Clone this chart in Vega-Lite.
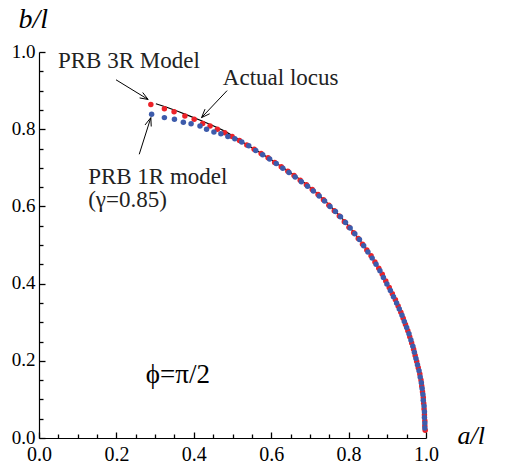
{
  "$schema": "https://vega.github.io/schema/vega-lite/v6.json",
  "width": 387,
  "height": 386,
  "autosize": {"type": "none"},
  "padding": {"left": 39, "top": 52, "right": 79, "bottom": 26},
  "background": "white",
  "config": {
    "view": {"stroke": null},
    "font": "Liberation Serif",
    "axis": {"labelFont": "Liberation Serif", "titleFont": "Liberation Serif", "grid": false, "tickOpacity": 1, "tickColor": "black"},
    "text": {"font": "Liberation Serif"}
  },
  "resolve": {"axis": {"x": "independent", "y": "independent"}},
  "datasets": {
    "locus": [
      {"a": 0.302, "b": 0.866}, {"a": 0.33, "b": 0.857}, {"a": 0.36, "b": 0.846}, {"a": 0.39, "b": 0.834},
      {"a": 0.42, "b": 0.822}, {"a": 0.45, "b": 0.809}, {"a": 0.48, "b": 0.795}, {"a": 0.51, "b": 0.777},
      {"a": 0.54, "b": 0.758}, {"a": 0.57, "b": 0.740}, {"a": 0.60, "b": 0.721}, {"a": 0.63, "b": 0.701},
      {"a": 0.66, "b": 0.681}, {"a": 0.69, "b": 0.658}, {"a": 0.72, "b": 0.633}, {"a": 0.75, "b": 0.604},
      {"a": 0.78, "b": 0.573}, {"a": 0.81, "b": 0.537}, {"a": 0.84, "b": 0.498}, {"a": 0.86, "b": 0.470},
      {"a": 0.88, "b": 0.438}, {"a": 0.90, "b": 0.401}, {"a": 0.92, "b": 0.360}, {"a": 0.935, "b": 0.326},
      {"a": 0.947, "b": 0.294}, {"a": 0.958, "b": 0.262}, {"a": 0.968, "b": 0.230}, {"a": 0.976, "b": 0.198},
      {"a": 0.984, "b": 0.166}, {"a": 0.989, "b": 0.135}, {"a": 0.993, "b": 0.105}, {"a": 0.995, "b": 0.075},
      {"a": 0.9965, "b": 0.045}, {"a": 0.998, "b": 0.018}
    ],
    "pts": [
      {"m": "PRB 3R", "a": 0.289, "b": 0.864}, {"m": "PRB 3R", "a": 0.324, "b": 0.853}, {"m": "PRB 3R", "a": 0.349, "b": 0.845},
      {"m": "PRB 3R", "a": 0.377, "b": 0.834}, {"m": "PRB 3R", "a": 0.401, "b": 0.826}, {"m": "PRB 3R", "a": 0.423, "b": 0.815},
      {"m": "PRB 3R", "a": 0.442, "b": 0.808}, {"m": "PRB 3R", "a": 0.461, "b": 0.800}, {"m": "PRB 3R", "a": 0.480, "b": 0.791},
      {"m": "PRB 3R", "a": 0.499, "b": 0.781}, {"m": "PRB 3R", "a": 0.518, "b": 0.771}, {"m": "PRB 3R", "a": 0.537, "b": 0.759},
      {"m": "PRB 3R", "a": 0.556, "b": 0.748}, {"m": "PRB 3R", "a": 0.574, "b": 0.737}, {"m": "PRB 3R", "a": 0.592, "b": 0.726},
      {"m": "PRB 3R", "a": 0.609, "b": 0.714}, {"m": "PRB 3R", "a": 0.626, "b": 0.703}, {"m": "PRB 3R", "a": 0.643, "b": 0.691},
      {"m": "PRB 3R", "a": 0.659, "b": 0.680}, {"m": "PRB 3R", "a": 0.675, "b": 0.668}, {"m": "PRB 3R", "a": 0.691, "b": 0.656},
      {"m": "PRB 3R", "a": 0.706, "b": 0.644}, {"m": "PRB 3R", "a": 0.721, "b": 0.631}, {"m": "PRB 3R", "a": 0.735, "b": 0.617},
      {"m": "PRB 3R", "a": 0.749, "b": 0.603}, {"m": "PRB 3R", "a": 0.763, "b": 0.589}, {"m": "PRB 3R", "a": 0.776, "b": 0.575},
      {"m": "PRB 3R", "a": 0.789, "b": 0.560}, {"m": "PRB 3R", "a": 0.801, "b": 0.546}, {"m": "PRB 3R", "a": 0.813, "b": 0.532},
      {"m": "PRB 3R", "a": 0.825, "b": 0.517}, {"m": "PRB 3R", "a": 0.836, "b": 0.502}, {"m": "PRB 3R", "a": 0.847, "b": 0.487},
      {"m": "PRB 3R", "a": 0.858, "b": 0.472}, {"m": "PRB 3R", "a": 0.868, "b": 0.456}, {"m": "PRB 3R", "a": 0.878, "b": 0.440},
      {"m": "PRB 3R", "a": 0.887, "b": 0.424}, {"m": "PRB 3R", "a": 0.896, "b": 0.407}, {"m": "PRB 3R", "a": 0.905, "b": 0.390},
      {"m": "PRB 3R", "a": 0.913, "b": 0.374}, {"m": "PRB 3R", "a": 0.921, "b": 0.358}, {"m": "PRB 3R", "a": 0.928, "b": 0.342},
      {"m": "PRB 3R", "a": 0.935, "b": 0.326}, {"m": "PRB 3R", "a": 0.941, "b": 0.310}, {"m": "PRB 3R", "a": 0.947, "b": 0.294},
      {"m": "PRB 3R", "a": 0.953, "b": 0.278}, {"m": "PRB 3R", "a": 0.958, "b": 0.262}, {"m": "PRB 3R", "a": 0.963, "b": 0.246},
      {"m": "PRB 3R", "a": 0.968, "b": 0.230}, {"m": "PRB 3R", "a": 0.972, "b": 0.214}, {"m": "PRB 3R", "a": 0.976, "b": 0.198},
      {"m": "PRB 3R", "a": 0.980, "b": 0.182}, {"m": "PRB 3R", "a": 0.984, "b": 0.166}, {"m": "PRB 3R", "a": 0.987, "b": 0.150},
      {"m": "PRB 3R", "a": 0.989, "b": 0.135}, {"m": "PRB 3R", "a": 0.991, "b": 0.120}, {"m": "PRB 3R", "a": 0.993, "b": 0.105},
      {"m": "PRB 3R", "a": 0.994, "b": 0.090}, {"m": "PRB 3R", "a": 0.995, "b": 0.075}, {"m": "PRB 3R", "a": 0.996, "b": 0.060},
      {"m": "PRB 3R", "a": 0.997, "b": 0.045}, {"m": "PRB 3R", "a": 0.997, "b": 0.032}, {"m": "PRB 3R", "a": 0.998, "b": 0.020},
      {"m": "PRB 1R", "a": 0.291, "b": 0.839}, {"m": "PRB 1R", "a": 0.324, "b": 0.830}, {"m": "PRB 1R", "a": 0.350, "b": 0.826},
      {"m": "PRB 1R", "a": 0.373, "b": 0.818}, {"m": "PRB 1R", "a": 0.393, "b": 0.814}, {"m": "PRB 1R", "a": 0.416, "b": 0.808},
      {"m": "PRB 1R", "a": 0.433, "b": 0.800}, {"m": "PRB 1R", "a": 0.452, "b": 0.793}, {"m": "PRB 1R", "a": 0.470, "b": 0.788},
      {"m": "PRB 1R", "a": 0.488, "b": 0.781}, {"m": "PRB 1R", "a": 0.506, "b": 0.775}, {"m": "PRB 1R", "a": 0.524, "b": 0.767},
      {"m": "PRB 1R", "a": 0.542, "b": 0.757}, {"m": "PRB 1R", "a": 0.560, "b": 0.745}, {"m": "PRB 1R", "a": 0.578, "b": 0.734},
      {"m": "PRB 1R", "a": 0.596, "b": 0.723}, {"m": "PRB 1R", "a": 0.613, "b": 0.711}, {"m": "PRB 1R", "a": 0.630, "b": 0.699},
      {"m": "PRB 1R", "a": 0.646, "b": 0.688}, {"m": "PRB 1R", "a": 0.662, "b": 0.676}, {"m": "PRB 1R", "a": 0.678, "b": 0.664},
      {"m": "PRB 1R", "a": 0.694, "b": 0.652}, {"m": "PRB 1R", "a": 0.709, "b": 0.640}, {"m": "PRB 1R", "a": 0.724, "b": 0.627},
      {"m": "PRB 1R", "a": 0.738, "b": 0.614}, {"m": "PRB 1R", "a": 0.752, "b": 0.600}, {"m": "PRB 1R", "a": 0.766, "b": 0.587},
      {"m": "PRB 1R", "a": 0.779, "b": 0.573}, {"m": "PRB 1R", "a": 0.792, "b": 0.558}, {"m": "PRB 1R", "a": 0.804, "b": 0.544},
      {"m": "PRB 1R", "a": 0.816, "b": 0.529}, {"m": "PRB 1R", "a": 0.828, "b": 0.514}, {"m": "PRB 1R", "a": 0.839, "b": 0.498},
      {"m": "PRB 1R", "a": 0.850, "b": 0.482}, {"m": "PRB 1R", "a": 0.861, "b": 0.466}, {"m": "PRB 1R", "a": 0.871, "b": 0.450},
      {"m": "PRB 1R", "a": 0.881, "b": 0.433}, {"m": "PRB 1R", "a": 0.890, "b": 0.416}, {"m": "PRB 1R", "a": 0.899, "b": 0.399},
      {"m": "PRB 1R", "a": 0.908, "b": 0.382}, {"m": "PRB 1R", "a": 0.916, "b": 0.366}, {"m": "PRB 1R", "a": 0.924, "b": 0.350},
      {"m": "PRB 1R", "a": 0.931, "b": 0.334}, {"m": "PRB 1R", "a": 0.938, "b": 0.318}, {"m": "PRB 1R", "a": 0.944, "b": 0.302},
      {"m": "PRB 1R", "a": 0.950, "b": 0.286}, {"m": "PRB 1R", "a": 0.956, "b": 0.270}, {"m": "PRB 1R", "a": 0.961, "b": 0.254},
      {"m": "PRB 1R", "a": 0.966, "b": 0.238}, {"m": "PRB 1R", "a": 0.970, "b": 0.222}, {"m": "PRB 1R", "a": 0.974, "b": 0.206},
      {"m": "PRB 1R", "a": 0.978, "b": 0.190}, {"m": "PRB 1R", "a": 0.982, "b": 0.174}, {"m": "PRB 1R", "a": 0.985, "b": 0.158},
      {"m": "PRB 1R", "a": 0.988, "b": 0.143}, {"m": "PRB 1R", "a": 0.990, "b": 0.128}, {"m": "PRB 1R", "a": 0.992, "b": 0.113},
      {"m": "PRB 1R", "a": 0.993, "b": 0.098}, {"m": "PRB 1R", "a": 0.995, "b": 0.083}, {"m": "PRB 1R", "a": 0.996, "b": 0.068},
      {"m": "PRB 1R", "a": 0.996, "b": 0.053}, {"m": "PRB 1R", "a": 0.997, "b": 0.039}, {"m": "PRB 1R", "a": 0.997, "b": 0.026}
    ],
    "arrows": [
      {"a": 0.199, "b": 0.928, "a2": 0.282, "b2": 0.877},
      {"a": 0.282, "b": 0.877, "a2": 0.268, "b2": 0.895},
      {"a": 0.282, "b": 0.877, "a2": 0.260, "b2": 0.881},
      {"a": 0.486, "b": 0.900, "a2": 0.420, "b2": 0.830},
      {"a": 0.420, "b": 0.830, "a2": 0.441, "b2": 0.840},
      {"a": 0.420, "b": 0.830, "a2": 0.429, "b2": 0.852},
      {"a": 0.259, "b": 0.735, "a2": 0.289, "b2": 0.830},
      {"a": 0.289, "b": 0.830, "a2": 0.274, "b2": 0.811},
      {"a": 0.289, "b": 0.830, "a2": 0.290, "b2": 0.807}
    ],
    "notes": [
      {"t": "PRB 3R Model", "a": 0.049, "b": 0.958},
      {"t": "Actual locus", "a": 0.475, "b": 0.914},
      {"t": "PRB 1R model", "a": 0.127, "b": 0.659},
      {"t": "(γ=0.85)", "a": 0.127, "b": 0.598}
    ],
    "phi": [
      {"t": "ϕ=π/2", "a": 0.276, "b": 0.142}
    ]
  },
  "layer": [
    {
      "data": {"name": "locus"},
      "mark": {"type": "line", "color": "black", "strokeWidth": 1.2},
      "encoding": {
        "x": {
          "field": "a", "type": "quantitative", "scale": {"domain": [0, 1]},
          "axis": {
            "orient": "bottom",
            "values": [0, 0.2, 0.4, 0.6, 0.8, 1.0], "format": ".1f",
            "grid": false, "ticks": false, "labelPadding": 6,
            "domainColor": "black", "domainWidth": 1.2, "labelColor": "black",
            "labelFont": "Liberation Serif", "labelFontSize": 20, "labelFlush": false, "labelOverlap": false,
            "title": "a/l", "titleFont": "Liberation Serif", "titleFontStyle": "italic", "titleFontWeight": "normal",
            "titleFontSize": 26, "titleColor": "black", "titleAngle": 0, "titleX": 418, "titleY": 5,
            "titleAlign": "left", "titleBaseline": "alphabetic"
          }
        },
        "y": {
          "field": "b", "type": "quantitative", "scale": {"domain": [0, 1]},
          "axis": {
            "orient": "left",
            "values": [0, 0.2, 0.4, 0.6, 0.8, 1.0], "format": ".1f",
            "grid": false, "ticks": false, "labelPadding": 4, "labelOffset": -1,
            "domainColor": "black", "domainWidth": 1.2, "labelColor": "black",
            "labelFont": "Liberation Serif", "labelFontSize": 19, "labelFlush": false, "labelOverlap": false,
            "title": "b/l", "titleFont": "Liberation Serif", "titleFontStyle": "italic", "titleFontWeight": "normal",
            "titleFontSize": 28, "titleColor": "black", "titleAngle": 0, "titleX": -21, "titleY": -25,
            "titleAlign": "left", "titleBaseline": "alphabetic"
          }
        }
      }
    },
    {
      "data": {"name": "pts"},
      "mark": {"type": "circle", "size": 30, "opacity": 1},
      "encoding": {
        "x": {
          "field": "a", "type": "quantitative",
          "axis": {"orient": "bottom", "offset": -4, "values": [0.05, 0.1, 0.15, 0.25, 0.3, 0.35, 0.45, 0.5, 0.55, 0.65, 0.7, 0.75, 0.85, 0.9, 0.95],
                   "domain": false, "labels": false, "title": null, "grid": false, "ticks": true, "tickSize": 4, "tickColor": "black", "tickOpacity": 1, "tickWidth": 1.3, "zindex": 2}
        },
        "y": {
          "field": "b", "type": "quantitative",
          "axis": {"orient": "left", "offset": -4, "values": [0.05, 0.1, 0.15, 0.25, 0.3, 0.35, 0.45, 0.5, 0.55, 0.65, 0.7, 0.75, 0.85, 0.9, 0.95],
                   "domain": false, "labels": false, "title": null, "grid": false, "ticks": true, "tickSize": 4, "tickColor": "black", "tickOpacity": 1, "tickWidth": 1.3, "zindex": 2}
        },
        "color": {"field": "m", "type": "nominal", "scale": {"domain": ["PRB 3R", "PRB 1R"], "range": ["#ec2228", "#3d5bab"]}, "legend": null}
      }
    },
    {
      "data": {"name": "arrows"},
      "mark": {"type": "rule", "color": "black", "strokeWidth": 1},
      "encoding": {
        "x": {
          "field": "a", "type": "quantitative",
          "axis": {"orient": "bottom", "offset": -6, "values": [0, 0.2, 0.4, 0.6, 0.8, 1.0],
                   "domain": false, "labels": false, "title": null, "grid": false, "ticks": true, "tickSize": 6, "tickColor": "black", "tickOpacity": 1, "tickWidth": 1.3, "zindex": 2}
        },
        "y": {
          "field": "b", "type": "quantitative",
          "axis": {"orient": "left", "offset": -6, "values": [0, 0.2, 0.4, 0.6, 0.8, 1.0],
                   "domain": false, "labels": false, "title": null, "grid": false, "ticks": true, "tickSize": 6, "tickColor": "black", "tickOpacity": 1, "tickWidth": 1.3, "zindex": 2}
        },
        "x2": {"field": "a2"},
        "y2": {"field": "b2"}
      }
    },
    {
      "data": {"name": "notes"},
      "mark": {"type": "text", "align": "left", "baseline": "alphabetic", "font": "Liberation Serif", "fontSize": 23, "color": "#222222"},
      "encoding": {
        "x": {"field": "a", "type": "quantitative", "axis": null},
        "y": {"field": "b", "type": "quantitative", "axis": null},
        "text": {"field": "t"}
      }
    },
    {
      "data": {"name": "phi"},
      "mark": {"type": "text", "align": "left", "baseline": "alphabetic", "font": "Liberation Serif", "fontSize": 27, "color": "black"},
      "encoding": {
        "x": {"field": "a", "type": "quantitative", "axis": null},
        "y": {"field": "b", "type": "quantitative", "axis": null},
        "text": {"field": "t"}
      }
    }
  ]
}
